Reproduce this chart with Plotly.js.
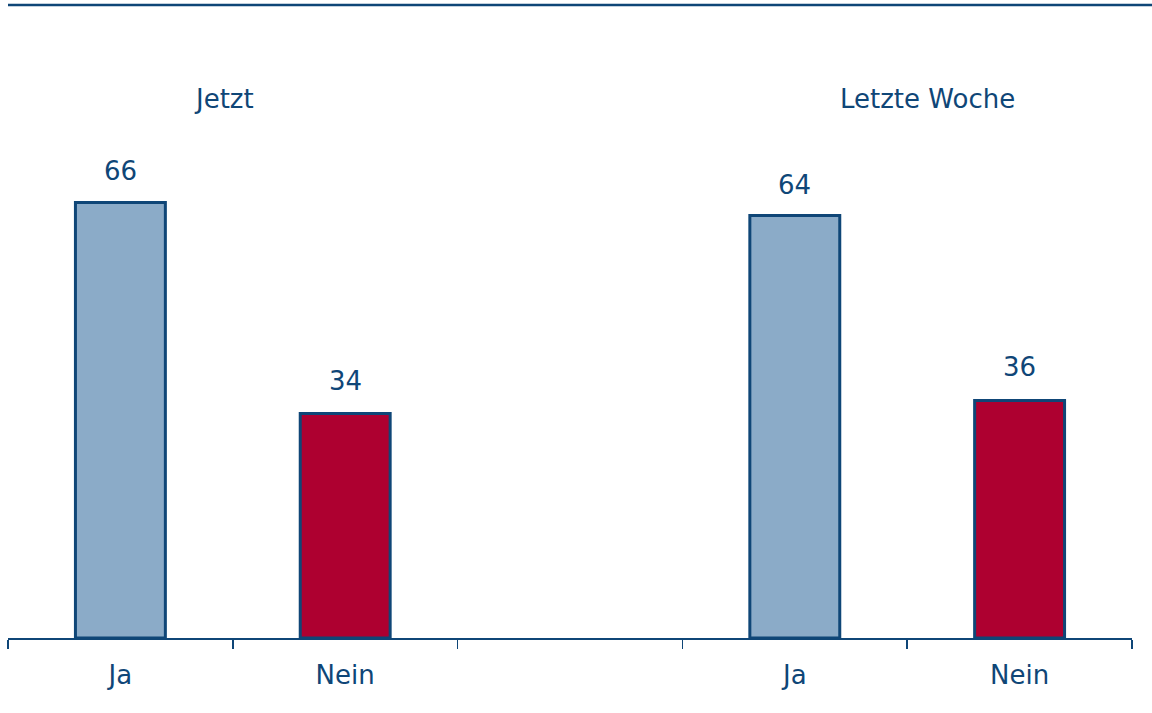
<!DOCTYPE html>
<html>
<head>
<meta charset="utf-8">
<script src="https://cdn.plot.ly/plotly-3.0.1.min.js"></script>
<style>html,body{margin:0;padding:0;background:#fff;}#chart{width:1152px;height:713px;}</style>
</head>
<body>
<div id="chart"></div>
<script>
// Data
const groups = ["Jetzt", "Letzte Woche"];
const answers = ["Ja", "Nein"];
const valuesJa = [66, 64];     // Jetzt, Letzte Woche
const valuesNein = [34, 36];   // Jetzt, Letzte Woche
const slotJa = [0, 3];         // category slots on the x axis
const slotNein = [1, 4];
const tickLabels = ["Ja", "Nein", "", "Ja", "Nein"];

const dark = "#0f4677";
const font = "DejaVu Sans, Verdana, sans-serif";
const fs = 26;

const traces = [
  {type: "bar", x: slotJa, y: valuesJa, width: 0.4,
   marker: {color: "#8babc8", line: {color: dark, width: 3}}, hoverinfo: "skip"},
  {type: "bar", x: slotNein, y: valuesNein, width: 0.4,
   marker: {color: "#ae0030", line: {color: dark, width: 3}}, hoverinfo: "skip"}
];

const annotations = [];
slotJa.forEach((s, i) => annotations.push({x: s, y: valuesJa[i], xref: "x", yref: "y", text: String(valuesJa[i]),
  showarrow: false, yanchor: "bottom", yshift: 14, font: {family: font, size: fs, color: dark}}));
slotNein.forEach((s, i) => annotations.push({x: s, y: valuesNein[i], xref: "x", yref: "y", text: String(valuesNein[i]),
  showarrow: false, yanchor: "bottom", yshift: 16, font: {family: font, size: fs, color: dark}}));
// group titles
const groupTitleX = [0.192, 0.818];
groups.forEach((g, i) => annotations.push({x: groupTitleX[i], y: 1.0, xref: "paper", yref: "paper", text: g,
  showarrow: false, xanchor: "center", yanchor: "middle", yshift: -55, font: {family: font, size: fs, color: dark}}));

const layout = {
  width: 1152, height: 713,
  margin: {l: 8, r: 20, t: 44, b: 75},
  paper_bgcolor: "#fff", plot_bgcolor: "#fff",
  showlegend: false,
  bargap: 0,
  xaxis: {
    range: [-0.5, 4.5], tickmode: "array", tickvals: [0, 1, 2, 3, 4], ticktext: tickLabels,
    ticks: "outside", ticklen: 13, tickcolor: "rgba(0,0,0,0)",
    tickfont: {family: font, size: fs, color: dark},
    showline: true, linecolor: dark, linewidth: 1.5, showgrid: false, zeroline: false,
    minor: {tickmode: "linear", tick0: -0.5, dtick: 1, ticks: "outside", ticklen: 9, tickwidth: 1.5, tickcolor: dark, showgrid: false},
    fixedrange: true
  },
  yaxis: {range: [0, 90], visible: false, showgrid: false, zeroline: false, fixedrange: true},
  annotations: annotations,
  shapes: [{type: "line", xref: "paper", yref: "paper", x0: 0, x1: 1144 / 1124, y0: 633 / 594, y1: 633 / 594,
    line: {color: dark, width: 2.5}}]
};

Plotly.newPlot("chart", traces, layout, {displayModeBar: false, staticPlot: true});
</script>
</body>
</html>
